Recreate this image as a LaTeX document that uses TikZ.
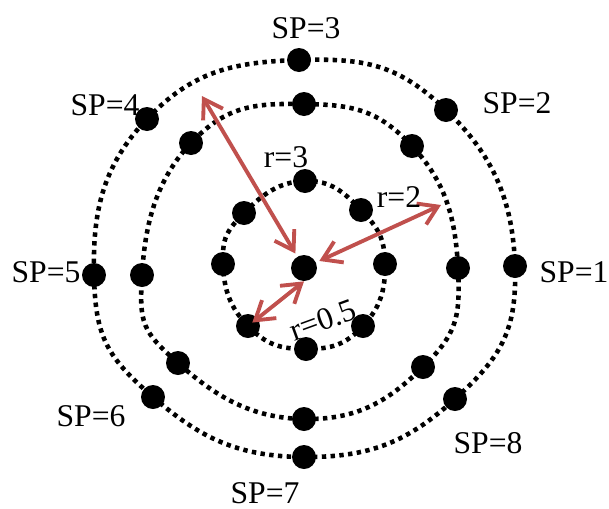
\documentclass[tikz,border=0pt]{standalone}
\usepackage{fontspec}
\setmainfont{Liberation Serif}
\usetikzlibrary{arrows.meta,backgrounds}
\definecolor{arrowred}{RGB}{192,80,77}

\tikzset{
  spdot/.style={circle, fill=black, inner sep=0pt, minimum size=\dotsize},
  ring/.style={line width=2.6pt, dash pattern=on 2.5pt off 2.5pt},
  rarrow/.style={arrowred, line width=2.2pt,
    {Straight Barb[length=0.36cm,width=0.46cm]}-{Straight Barb[length=0.36cm,width=0.46cm]}},
  lbl/.style={font=\fontsize{18}{20}\selectfont, inner sep=0pt}
}

\begin{document}
\begin{tikzpicture}[x=0.02cm, y=-0.02cm]

% Size of the dots
\def\dotsize{0.48cm}

\useasboundingbox (0,0) rectangle (609,508);

% Draw centre dot
\node[spdot, minimum size=0.52cm] (c) at (304,268) {};

% Draw inner ring dots (r=0.5)
\node[spdot] (i1) at (385,264) {};
\node[spdot] (i2) at (361,210) {};
\node[spdot] (i3) at (305,181) {};
\node[spdot] (i4) at (244,213) {};
\node[spdot] (i5) at (223,264) {};
\node[spdot] (i6) at (248,326) {};
\node[spdot] (i7) at (306,349) {};
\node[spdot] (i8) at (363,326) {};

% Draw middle ring dots (r=2)
\node[spdot] (m1) at (458,268) {};
\node[spdot] (m2) at (412,146) {};
\node[spdot] (m3) at (304,104) {};
\node[spdot] (m4) at (191,143) {};
\node[spdot] (m5) at (142,275) {};
\node[spdot] (m6) at (178,363) {};
\node[spdot] (m7) at (304,419) {};
\node[spdot] (m8) at (423,367) {};

% Draw outer ring dots (r=3)
\node[spdot] (o1) at (515,266) {};
\node[spdot] (o2) at (446,110) {};
\node[spdot] (o3) at (299,60) {};
\node[spdot] (o4) at (147,119) {};
\node[spdot] (o5) at (94,275) {};
\node[spdot] (o6) at (153,397) {};
\node[spdot] (o7) at (304,457) {};
\node[spdot] (o8) at (455,399) {};

% Dotted rings behind the dots
\begin{scope}[on background layer]
\draw[ring] plot[smooth cycle, tension=0.8] coordinates {(i1.center) (i2.center) (i3.center) (i4.center) (i5.center) (i6.center) (i7.center) (i8.center)};
\draw[ring] plot[smooth cycle, tension=0.8] coordinates {(m1.center) (m2.center) (m3.center) (m4.center) (m5.center) (m6.center) (m7.center) (m8.center)};
\draw[ring] plot[smooth cycle, tension=0.8] coordinates {(o1.center) (o2.center) (o3.center) (o4.center) (o5.center) (o6.center) (o7.center) (o8.center)};
\end{scope}

% Radius arrows
\coordinate (a3) at (202,96);
\coordinate (a2) at (441,205);
\draw[rarrow, shorten >=2pt] (a3) -- (c);
\draw[rarrow, shorten <=2pt] (c) -- (a2);
\draw[rarrow, shorten >=0.11cm] (c.south) -- (i6.center);

% Radius labels
\node[lbl] (r3) at (286,157) {r=3};
\node[lbl] (r2) at (399,197) {r=2};
\node[lbl, rotate=20] (r05) at (323,320) {r=0.5};

% SP labels
\node[lbl] (sp1) at (574,272) {SP=1};
\node[lbl] (sp2) at (517,103) {SP=2};
\node[lbl] (sp3) at (306,28) {SP=3};
\node[lbl] (sp4) at (105,105) {SP=4};
\node[lbl] (sp5) at (46,272) {SP=5};
\node[lbl] (sp6) at (91,416) {SP=6};
\node[lbl] (sp7) at (265,493) {SP=7};
\node[lbl] (sp8) at (488,443) {SP=8};

\end{tikzpicture}
\end{document}
